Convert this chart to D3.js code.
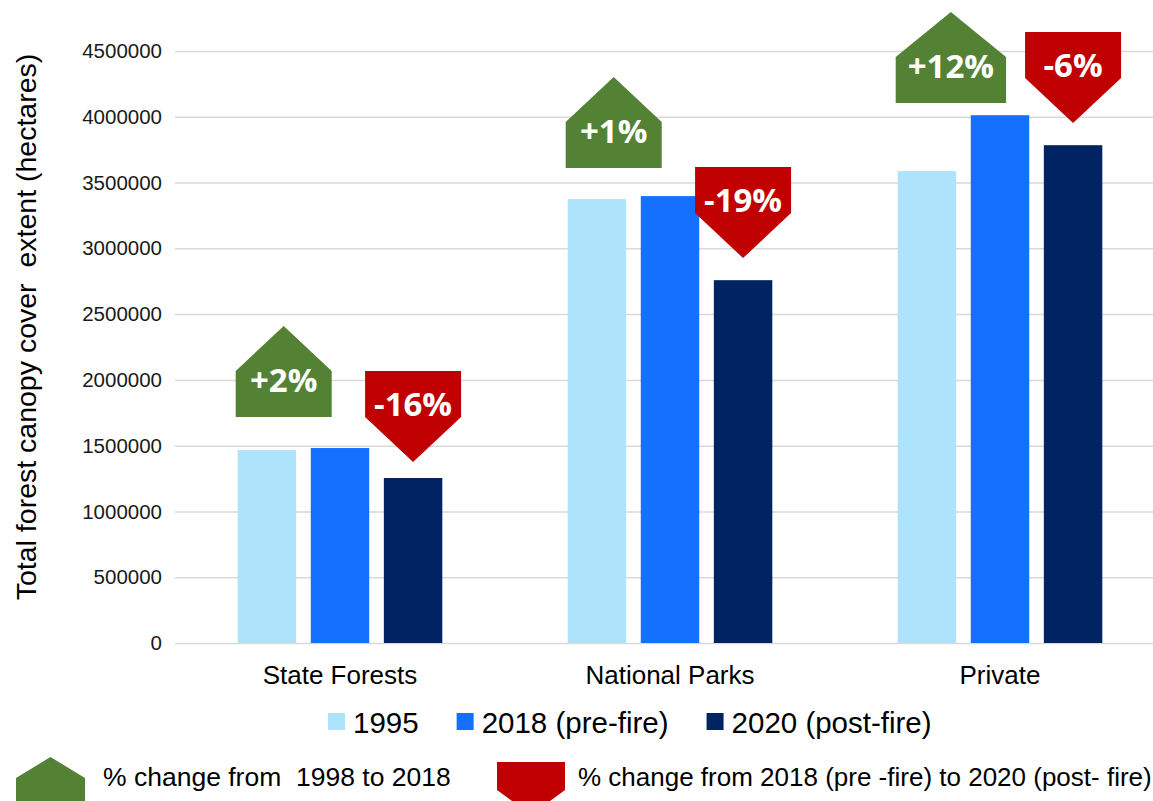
<!DOCTYPE html>
<html>
<head>
<meta charset="utf-8">
<script src="https://cdn.jsdelivr.net/npm/d3@7"></script>
<style>
  html, body { margin: 0; padding: 0; background: #ffffff; }
  svg { display: block; }
</style>
</head>
<body>
<svg id="chart" width="1153" height="801"></svg>
<script>
// ---------------- DATA ----------------
const categories = ["State Forests", "National Parks", "Private"];
const seriesNames = ["1995", "2018 (pre-fire)", "2020 (post-fire)"];
const values1995 = [1466000, 3374000, 3587000];
const values2018 = [1482000, 3397000, 4012000];
const values2020 = [1254000, 2758000, 3784000];
const yTicks = [0, 500000, 1000000, 1500000, 2000000, 2500000, 3000000, 3500000, 4000000, 4500000];
// annotation labels and the value level (hectares) where each marker sits
const gainLabels = ["+2%", "+1%", "+12%"];
const gainBaseValues = [1718000, 3610000, 4105000];   // bottom edge of green marker
const lossLabels = ["-16%", "-19%", "-6%"];
const lossTipValues = [1376000, 2926000, 3953000];    // tip of red marker
const legendNotes = ["% change from  1998 to 2018", "% change from 2018 (pre -fire) to 2020 (post- fire)"];

// ---------------- STYLE / LAYOUT ----------------
const colors = ["#ADE3FB", "#1570FF", "#002461"];
const green = "#548235", red = "#C00000";
const plot = { left: 175, right: 1165, top: 51, bottom: 643 };

const svg = d3.select("#chart");

const y = d3.scaleLinear().domain([0, 4500000]).range([plot.bottom, plot.top]);
const x0 = d3.scaleBand().domain(categories).range([plot.left, plot.right]).paddingInner(0.38).paddingOuter(0.19);
const x1 = d3.scaleBand().domain(seriesNames).range([0, x0.bandwidth()]).paddingInner(0.2);

// gridlines + tick labels via axis
const yAxis = d3.axisLeft(y).tickValues(yTicks).tickFormat(d3.format("d"))
  .tickSize(-(1160 - plot.left)).tickPadding(13);
const gy = svg.append("g").attr("transform", `translate(${plot.left},0)`).call(yAxis);
gy.select(".domain").remove();
gy.selectAll(".tick line").attr("stroke", "#d9d9d9").attr("stroke-width", 1.5);
gy.selectAll(".tick text")
  .attr("fill", "#1a1a1a")
  .style("font-family", "Liberation Sans, Arial, sans-serif")
  .style("font-size", "20.5px");

// y-axis title
svg.append("text")
  .attr("transform", `translate(36,327) rotate(-90)`)
  .attr("text-anchor", "middle")
  .style("font-family", "Liberation Sans, Arial, sans-serif")
  .style("font-size", "28.5px")
  .attr("fill", "#000")
  .attr("xml:space", "preserve")
  .text("Total forest canopy cover  extent (hectares)");

// bars
const seriesValues = [values1995, values2018, values2020];
const rows = [];
categories.forEach((c, i) => seriesNames.forEach((s, j) => rows.push({ c, s, j, v: seriesValues[j][i] })));
svg.append("g").selectAll("rect").data(rows).join("rect")
  .attr("x", d => x0(d.c) + x1(d.s))
  .attr("y", d => y(d.v))
  .attr("width", x1.bandwidth())
  .attr("height", d => y(0) - y(d.v))
  .attr("fill", d => colors[d.j]);

// category labels
svg.append("g").selectAll("text").data(categories).join("text")
  .attr("x", d => x0(d) + x0.bandwidth() / 2)
  .attr("y", 684)
  .attr("text-anchor", "middle")
  .style("font-family", "Liberation Sans, Arial, sans-serif")
  .style("font-size", "26px")
  .attr("fill", "#000")
  .text(d => d);

// ---------------- MARKERS ----------------
const markH = 91, tri = 45;
const labelFont = "'Open Sans', Lato, sans-serif";
const labelSize = "33px";

function upPath(l, w, bottom, h, t) {
  const top = bottom - h, sh = top + t;
  return `M${l},${bottom} L${l},${sh} L${l + w / 2},${top} L${l + w},${sh} L${l + w},${bottom} Z`;
}
function downPath(l, w, tip, h, t) {
  const top = tip - h, sh = tip - t;
  return `M${l},${top} L${l + w},${top} L${l + w},${sh} L${l + w / 2},${tip} L${l},${sh} Z`;
}

const gMarks = svg.append("g");
categories.forEach((c, i) => {
  // green gain marker, left aligned with the 1995 bar
  const tmp = gMarks.append("text").style("font-family", labelFont).style("font-size", labelSize)
    .style("font-weight", 700).text(gainLabels[i]);
  const tw = tmp.node().getComputedTextLength();
  tmp.remove();
  const gw = Math.max(96, tw + 24);
  const gl = x0(c) + x1(seriesNames[0]) - 2;
  const gb = y(gainBaseValues[i]);
  gMarks.append("path").attr("d", upPath(gl, gw, gb, markH, tri)).attr("fill", green);
  gMarks.append("text").attr("x", gl + gw / 2).attr("y", gb - 25)
    .attr("text-anchor", "middle").attr("fill", "#fff")
    .style("font-family", labelFont).style("font-size", labelSize).style("font-weight", 700)
    .text(gainLabels[i]);

  // red loss marker, centred over the 2020 bar
  const rw = 96;
  const rc = x0(c) + x1(seriesNames[2]) + x1.bandwidth() / 2;
  const rl = rc - rw / 2;
  const rt = y(lossTipValues[i]);
  gMarks.append("path").attr("d", downPath(rl, rw, rt, markH, tri)).attr("fill", red);
  gMarks.append("text").attr("x", rc).attr("y", rt - markH + 45)
    .attr("text-anchor", "middle").attr("fill", "#fff")
    .style("font-family", labelFont).style("font-size", labelSize).style("font-weight", 700)
    .text(lossLabels[i]);
});

// ---------------- SERIES LEGEND ----------------
const legFont = "Liberation Sans, Arial, sans-serif";
let lx = 328;
const lg = svg.append("g");
seriesNames.forEach((s, j) => {
  lg.append("rect").attr("x", lx).attr("y", 713).attr("width", 17).attr("height", 17).attr("fill", colors[j]);
  const t = lg.append("text").attr("x", lx + 25).attr("y", 733)
    .style("font-family", legFont).style("font-size", "29.5px").attr("fill", "#000").text(s);
  lx += 25 + t.node().getComputedTextLength() + 38;
});

// ---------------- MARKER LEGEND ----------------
const ml = svg.append("g");
ml.append("path").attr("d", upPath(16, 69, 830, 73, 21)).attr("fill", green);
ml.append("text").attr("x", 103).attr("y", 786).attr("xml:space", "preserve")
  .style("font-family", legFont).style("font-size", "26.5px").attr("fill", "#000").text(legendNotes[0]);
ml.append("path").attr("d", downPath(497, 68, 815, 53, 25)).attr("fill", red);
ml.append("text").attr("x", 578).attr("y", 786).attr("xml:space", "preserve")
  .style("font-family", legFont).style("font-size", "26px").attr("fill", "#000").text(legendNotes[1]);
</script>
</body>
</html>
